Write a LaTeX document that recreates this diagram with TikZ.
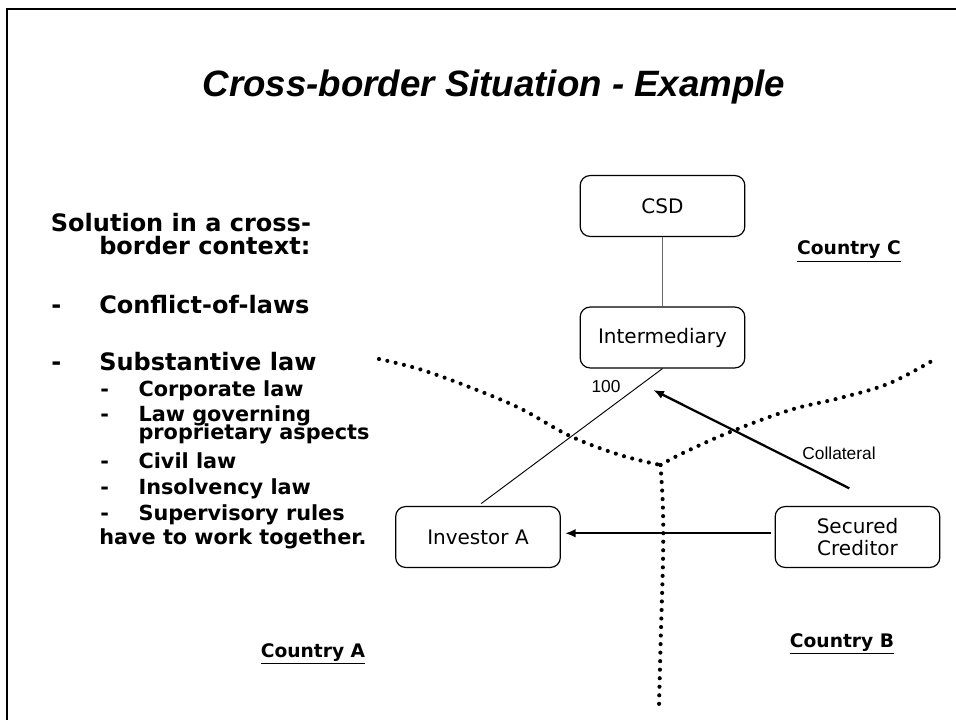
\documentclass[tikz,border=0pt]{standalone}
\usepackage{fontspec}
\setmainfont{DejaVu Sans}
\newfontfamily\arialf{Liberation Sans}
\usetikzlibrary{arrows.meta}
\newcommand\twolinetight[2]{\vbox{\baselineskip=13.5pt\lineskiplimit=-100pt\relax\hbox{#1}\hbox{#2}}}
\begin{document}
\begin{tikzpicture}[x=0.75pt,y=-0.75pt,
  box/.style={draw, rounded corners=7.5pt, line width=0.9pt, minimum width=123.5pt, minimum height=45.7pt, inner sep=0pt, font=\fontsize{15}{16.3}\selectfont, align=center},
  mainitem/.style={anchor=base west, inner sep=0pt, font=\bfseries\fontsize{18}{20}\selectfont},
  subitem/.style={anchor=base west, inner sep=0pt, font=\bfseries\fontsize{15.6}{17}\selectfont},
  country/.style={anchor=base, inner sep=0pt, font=\bfseries\fontsize{14}{16}\selectfont},
  smalllabel/.style={inner sep=0pt, font=\arialf\fontsize{13}{15}\selectfont},
  borderline/.style={line width=3.1pt, line cap=round, dash pattern=on 0pt off 6.4pt},
  thickarrow/.style={line width=1.7pt, -{Latex[length=8pt,width=6.5pt]}},
]
\useasboundingbox (0,0) rectangle (956,720);
\fill[white] (0,0) rectangle (956,720);
% frame
\draw[line width=1.7pt] (956,9) -- (7,9) -- (7,720);

% title
\node[anchor=base, inner sep=0pt, font=\arialf\bfseries\itshape\fontsize{27.5}{33}\selectfont] (title) at (494,96.7) {Cross-border Situation - Example};

% left text
\node[mainitem] (t1) at (50.7,231.7) {Solution in a cross-};
\node[mainitem] (t2) at (99,255) {border context:};
\node[mainitem] (d1) at (51,313) {-};
\node[mainitem] (t3) at (99,313) {Conflict-of-laws};
\node[mainitem] (d2) at (51,370) {-};
\node[mainitem] (t4) at (99,370) {Substantive law};
\node[subitem] (s1d) at (100,396.7) {-};
\node[subitem] (s1) at (138.3,396.7) {Corporate law};
\node[subitem] (s2d) at (100,421) {-};
\node[subitem, anchor=north west] (s2) at (138.3,405.5) {\twolinetight{Law governing}{proprietary aspects}};
\node[subitem] (s3d) at (100,468.3) {-};
\node[subitem] (s3) at (138.3,468.3) {Civil law};
\node[subitem] (s4d) at (100,494.5) {-};
\node[subitem] (s4) at (138.3,494.5) {Insolvency law};
\node[subitem] (s5d) at (100,520) {-};
\node[subitem] (s5) at (138.3,520) {Supervisory rules};
\node[subitem] (t5) at (99,544.5) {have to work together.};

% country borders
\draw[borderline] plot[smooth, tension=0.6] coordinates {(379,359) (420,369.3) (470,387.3) (520,408.3) (570,436) (620,455) (660.5,465)};
\draw[borderline] plot[smooth, tension=0.6] coordinates {(660.5,465) (683,453) (730,432) (790,410) (840,398) (890,383) (937,358)};
\draw[borderline] plot[smooth, tension=0.6] coordinates {(660.5,465) (663,510) (663,560) (661,630) (659,705)};

% boxes
\node[box] (csd) at (662.5,206) {CSD};
\node[box] (inter) at (662.5,337.5) {Intermediary};
\node[box] (inv) at (478,537) {Investor A};
\node[box] (sec) at (857.5,537) {Secured\\Creditor};

% connectors
\draw[line width=0.8pt, black!60] (csd.south) -- (inter.north);
\draw[line width=0.7pt, shorten >=3pt] (inter.south) -- (inv.north);
\draw[thickarrow, shorten <=2.5pt, shorten >=3pt] ([yshift=2.8pt]sec.west) -- ([yshift=2.8pt]inv.east);
\coordinate (colstart) at (849.3,488.3);
\coordinate (colend) at (653.3,390);
\draw[thickarrow] (colstart) -- (colend);

% labels
\node[smalllabel] (hundred) at (606,387) {100};
\node[smalllabel] (coll) at (839,453) {Collateral};
\node[country] (cC) at (849,255) {\underline{Country C}};
\node[country] (cA) at (313,657) {\underline{Country A}};
\node[country] (cB) at (842,647) {\underline{Country B}};
\end{tikzpicture}
\end{document}
